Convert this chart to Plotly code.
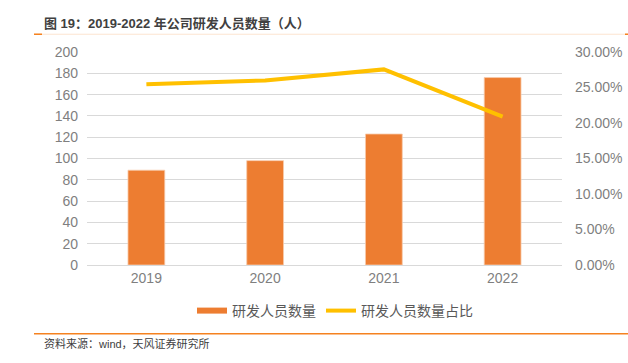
import plotly.graph_objects as go

years = ["2019", "2020", "2021", "2022"]
staff = [89, 98, 123, 176]
ratio = [0.2545, 0.2600, 0.2755, 0.2090]

W, H = 628, 363
L, R, T, B = 87, 66, 51.5, 98
pw, ph = W - L - R, H - T - B

def px_x(x):
    return (x - L) / pw

def px_y(y):
    return (H - B - y) / ph

FONT = "Liberation Sans, Arial, Noto Sans CJK SC, sans-serif"
GRAY = "#7F7F7F"

fig = go.Figure()
fig.add_trace(go.Bar(
    x=years, y=staff, name="研发人员数量", showlegend=False,
    marker=dict(color="#ED7D31", line=dict(color="#F8CBAD", width=0.8)),
    yaxis="y",
))
fig.add_trace(go.Scatter(
    x=[None], y=[None], name="研发人员数量", mode="lines",
    line=dict(color="#ED7D31", width=6), showlegend=True,
))
fig.add_trace(go.Scatter(
    x=years, y=ratio, name="研发人员数量占比", mode="lines",
    line=dict(color="#FFC000", width=4), yaxis="y2",
))

fig.update_layout(
    width=W, height=H,
    margin=dict(l=L, r=R, t=T, b=B, pad=0, autoexpand=False),
    paper_bgcolor="white", plot_bgcolor="white",
    font=dict(family=FONT, color=GRAY, size=14),
    bargap=0.69,
    showlegend=True,
    legend=dict(orientation="h", xref="container", yref="container",
                x=335 / W, y=1 - 311 / H, xanchor="center", yanchor="middle",
                font=dict(size=14, color="#595959", family=FONT), bgcolor="rgba(0,0,0,0)",
                itemwidth=30, tracegroupgap=0),
    xaxis=dict(showgrid=False, showline=True, linecolor="#D9D9D9", linewidth=1, automargin=False,
               ticks="", tickfont=dict(size=14, color=GRAY), fixedrange=True),
    yaxis=dict(range=[0, 200], dtick=20, showgrid=True, gridcolor="#D9D9D9", gridwidth=1,
               zeroline=False, showline=False, ticks="", ticklabelstandoff=8, automargin=False,
               tickfont=dict(size=14, color=GRAY)),
    yaxis2=dict(range=[0, 0.30], dtick=0.05, tickformat=".2%", overlaying="y", side="right",
                showgrid=False, zeroline=False, showline=False, ticks="", ticklabelstandoff=12,
                automargin=False, tickfont=dict(size=14, color=GRAY)),
    annotations=[
        dict(text="<b>图 19：2019-2022 年公司研发人员数量（人）</b>", xref="paper", yref="paper",
             x=px_x(42), y=px_y(23), xanchor="left", yanchor="middle", showarrow=False,
             font=dict(size=13, color="#404040", family=FONT)),
        dict(text="资料来源：wind，天风证券研究所", xref="paper", yref="paper",
             x=px_x(42), y=px_y(344), xanchor="left", yanchor="middle", showarrow=False,
             font=dict(size=11, color="#404040", family=FONT)),
    ],
    shapes=[
        dict(type="line", xref="paper", yref="paper", x0=px_x(34), x1=px_x(628),
             y0=px_y(33.7), y1=px_y(33.7), line=dict(color="#FCE4D0", width=1)),
        dict(type="line", xref="paper", yref="paper", x0=px_x(34), x1=px_x(42),
             y0=px_y(33.7), y1=px_y(33.7), line=dict(color="#F58220", width=1.5)),
        dict(type="line", xref="paper", yref="paper", x0=px_x(625), x1=px_x(628),
             y0=px_y(33.7), y1=px_y(33.7), line=dict(color="#F58220", width=1.5)),
        dict(type="line", xref="paper", yref="paper", x0=px_x(34), x1=px_x(628),
             y0=px_y(334), y1=px_y(334), line=dict(color="#F58220", width=1.5)),
    ],
)

fig.write_html("out.html", config={"displayModeBar": False},
               post_script="document.body.style.margin='0px';document.body.style.padding='0px';")
